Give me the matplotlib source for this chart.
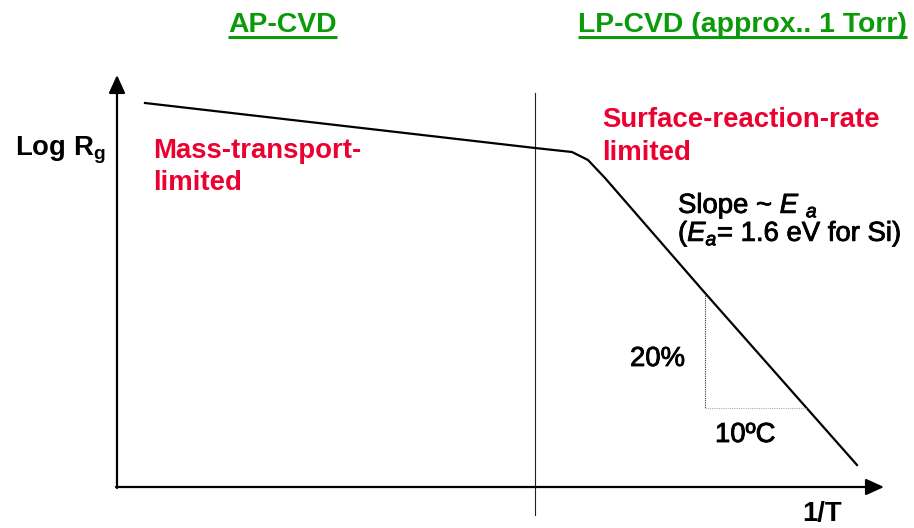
import matplotlib
matplotlib.use("Agg")
import matplotlib.pyplot as plt
import matplotlib.patheffects as pe

plt.rcParams['font.family'] = ['Liberation Sans', 'DejaVu Sans']
plt.rcParams['mathtext.fontset'] = 'custom'
plt.rcParams['mathtext.rm'] = 'Liberation Sans'
plt.rcParams['mathtext.it'] = 'Liberation Sans:italic'
plt.rcParams['mathtext.bf'] = 'Liberation Sans:bold'

# schematic growth-rate curve, drawn in a pixel-like frame (x grows with 1/T, y grows downward)
inv_T = [145, 535, 572, 588, 605, 705, 857]
log_rg = [103, 148, 152, 160, 178, 293, 465]

# 10 degree step triangle on the steep branch
tri_x = [705, 705, 807]
tri_y = [293, 408, 408]

divider_x = 535
axis_origin = (117, 487)
x_axis_end = 884
y_axis_end = 75

green = '#0a9a0a'
red = '#ec0030'
fs = 19.8
heavy = [pe.withStroke(linewidth=0.6, foreground='black')]

fig = plt.figure(figsize=(9.14, 5.28), dpi=100)
ax = fig.add_axes([0, 0, 1, 1])
ax.set_xlim(0, 914)
ax.set_ylim(528, 0)
ax.axis('off')

# axes with arrowheads
arrow = dict(arrowstyle='-|>,head_length=1.1,head_width=0.5', lw=1.6, color='black',
             shrinkA=0, shrinkB=0)
ax.annotate('', xy=(axis_origin[0], y_axis_end), xytext=(axis_origin[0], axis_origin[1] + 1),
            arrowprops=arrow)
ax.annotate('', xy=(x_axis_end, axis_origin[1]), xytext=(axis_origin[0] - 1, axis_origin[1]),
            arrowprops=arrow)

# regime divider
ax.plot([divider_x, divider_x], [93, 515], color='#222222', lw=0.8)

# curve
ax.plot(inv_T, log_rg, color='black', lw=1.6, solid_joinstyle='round')

# slope triangle
ax.plot(tri_x[:2], tri_y[:2], color='#333333', lw=0.8, ls=(0, (1, 1)))
ax.plot(tri_x[1:], tri_y[1:], color='#aaaaaa', lw=0.8, ls=(0, (1, 1)))

# headings with underlines
fig.canvas.draw()
renderer = fig.canvas.get_renderer()
for label, x in [('AP-CVD', 228), ('LP-CVD (approx.. 1 Torr)', 578)]:
    t = ax.text(x, 32, label, color=green, fontsize=20.4, fontweight='bold', va='baseline')
    bb = t.get_window_extent(renderer).transformed(ax.transData.inverted())
    ax.plot([bb.x0, bb.x1], [37, 37], color=green, lw=2.2, solid_capstyle='butt')

ax.text(15, 156, r'Log R$_\mathbf{g}$', fontsize=fs, fontweight='bold', va='baseline')

# regime labels, one text per line
for x, lines in [(153, [('Mass-transport-', 158), ('limited', 190)]),
                 (602, [('Surface-reaction-rate', 127), ('limited', 160)])]:
    for s, y in lines:
        ax.text(x, y, s, color=red, fontsize=fs, fontweight='bold', va='baseline')

ax.text(678, 213, r'Slope ~ $E$ $_{a}$', fontsize=fs, va='baseline', path_effects=heavy)
ax.text(678, 241, r'($E_a$= 1.6 eV for Si)', fontsize=fs, va='baseline', path_effects=heavy)
ax.text(630, 366, '20%', fontsize=fs, va='baseline', path_effects=heavy)
ax.text(715, 442, '10ºC', fontsize=fs, va='baseline', path_effects=heavy)
ax.text(802, 521, '1/T', fontsize=fs, fontweight='bold', va='baseline')

fig.savefig('out.png', dpi=100)
